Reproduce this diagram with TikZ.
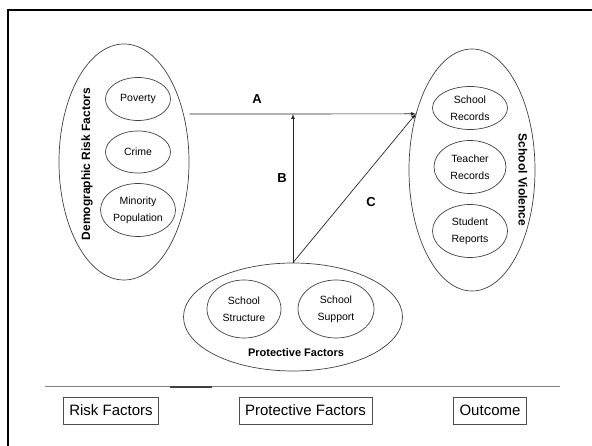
\documentclass[tikz,border=0pt]{standalone}
\usepackage{fontspec}
\setmainfont{Liberation Sans}
\usetikzlibrary{shapes.geometric,positioning}
\newlength{\SVItemHeight}
\setlength{\SVItemHeight}{43pt}
\newlength{\SVItemWidth}
\setlength{\SVItemWidth}{75pt}
\tikzset{/sv/group/.style={
	shape=ellipse, draw=black!75, line width=0.7pt, inner sep=0
}}
\tikzset{/sv/item/.style={shape=ellipse, draw=black!75, line width=0.7pt, inner sep=0, align=center, minimum width=\SVItemWidth, minimum height=\SVItemHeight, font=\fontsize{10.5}{17}\selectfont
}}
\tikzset{/sv/title/.style={inner sep=0, font=\fontsize{12}{14}\selectfont\bfseries
}}
\tikzset{/sv/mark/.style={inner sep=0, font=\fontsize{13}{15}\selectfont\bfseries
}}
\tikzset{/sv/path/.style={draw=black!85, line width=0.7pt, ->, >=latex
}}
\tikzset{/sv/legend/.style={rectangle, draw=black!70, line width=0.8pt, minimum height=27pt, inner xsep=6pt, font=\fontsize{15}{17}\selectfont
}}

\begin{document}
\begin{tikzpicture}[x=1pt, y=-1pt]
			\useasboundingbox (0,0) rectangle (592,446);
			\draw[line width=2.5pt] (8,10) rectangle (640,480);
			\path (124,162) node[/sv/group, minimum width=130pt, minimum height=236pt] (Risk) {};
			\path (Risk.center) ++(14,-63) node[/sv/item, minimum width=65pt] (Poverty) {Poverty};
			\path (Risk.center) ++(14,-10) node[/sv/item, minimum width=65pt, minimum height=42pt] (Crime) {Crime};
			\path (Risk.center) ++(14,48) node[/sv/item, minimum height=53pt] (Minority) {Minority\\Population};
			\path (Risk.center) ++(-37,2) node[/sv/title, rotate=90] (RiskLabel) {Demographic Risk Factors};
			\path (472,170) node[/sv/group, minimum width=126pt, minimum height=242pt] (Violence) {};
			\path (Violence.center) ++(-2,-62) node[/sv/item] (SchoolRec) {School\\Records};
			\path (Violence.center) ++(-2,-3) node[/sv/item, minimum width=72pt, minimum height=53pt] (TeacherRec) {Teacher\\Records};
			\path (Violence.center) ++(-2,61) node[/sv/item, minimum height=53pt] (StudentRep) {Student\\Reports};
			\path (Violence.center) ++(51,10) node[/sv/title, rotate=-90] (ViolenceLabel) {School Violence};
			\path (293,317) node[/sv/group, minimum width=219pt, minimum height=108pt] (Protect) {};
			\path (Protect.center) ++(-49,-8) node[/sv/item, minimum width=74pt, minimum height=58pt] (Structure) {School\\Structure};
			\path (Protect.center) ++(43,-8) node[/sv/item, minimum width=76pt, minimum height=58pt] (Support) {School\\Support};
			\path (Protect.center) ++(3,36) node[/sv/title, font=\fontsize{11}{13}\selectfont\bfseries] (ProtectLabel) {Protective Factors};
			% paths A, B, C
			\coordinate (Join) at (Protect.north |- 0,114);
			\coordinate (Target) at (Violence.135);
			\path[/sv/path] (Join -| Risk.east) -- (Target);
			\path[/sv/path] (Protect.north) -- (Join);
			\path[/sv/path] (Protect.north) -- (Target);
			\path (257,99) node[/sv/mark] (A) {A};
			\path (282,178) node[/sv/mark] (B) {B};
			\path (371,202) node[/sv/mark] (C) {C};
			% legend
			\draw[black!50, line width=1pt] (45,387) -- (560,387);
			\draw[black!75, line width=1.4pt] (170,387) -- (212,387);
			\path (111,410.5) node[/sv/legend] (RiskBox) {Risk Factors};
			\path (305.5,410.5) node[/sv/legend] (ProtectBox) {Protective Factors};
			\path (490,410.5) node[/sv/legend] (OutcomeBox) {Outcome};
		\end{tikzpicture}
\end{document}
